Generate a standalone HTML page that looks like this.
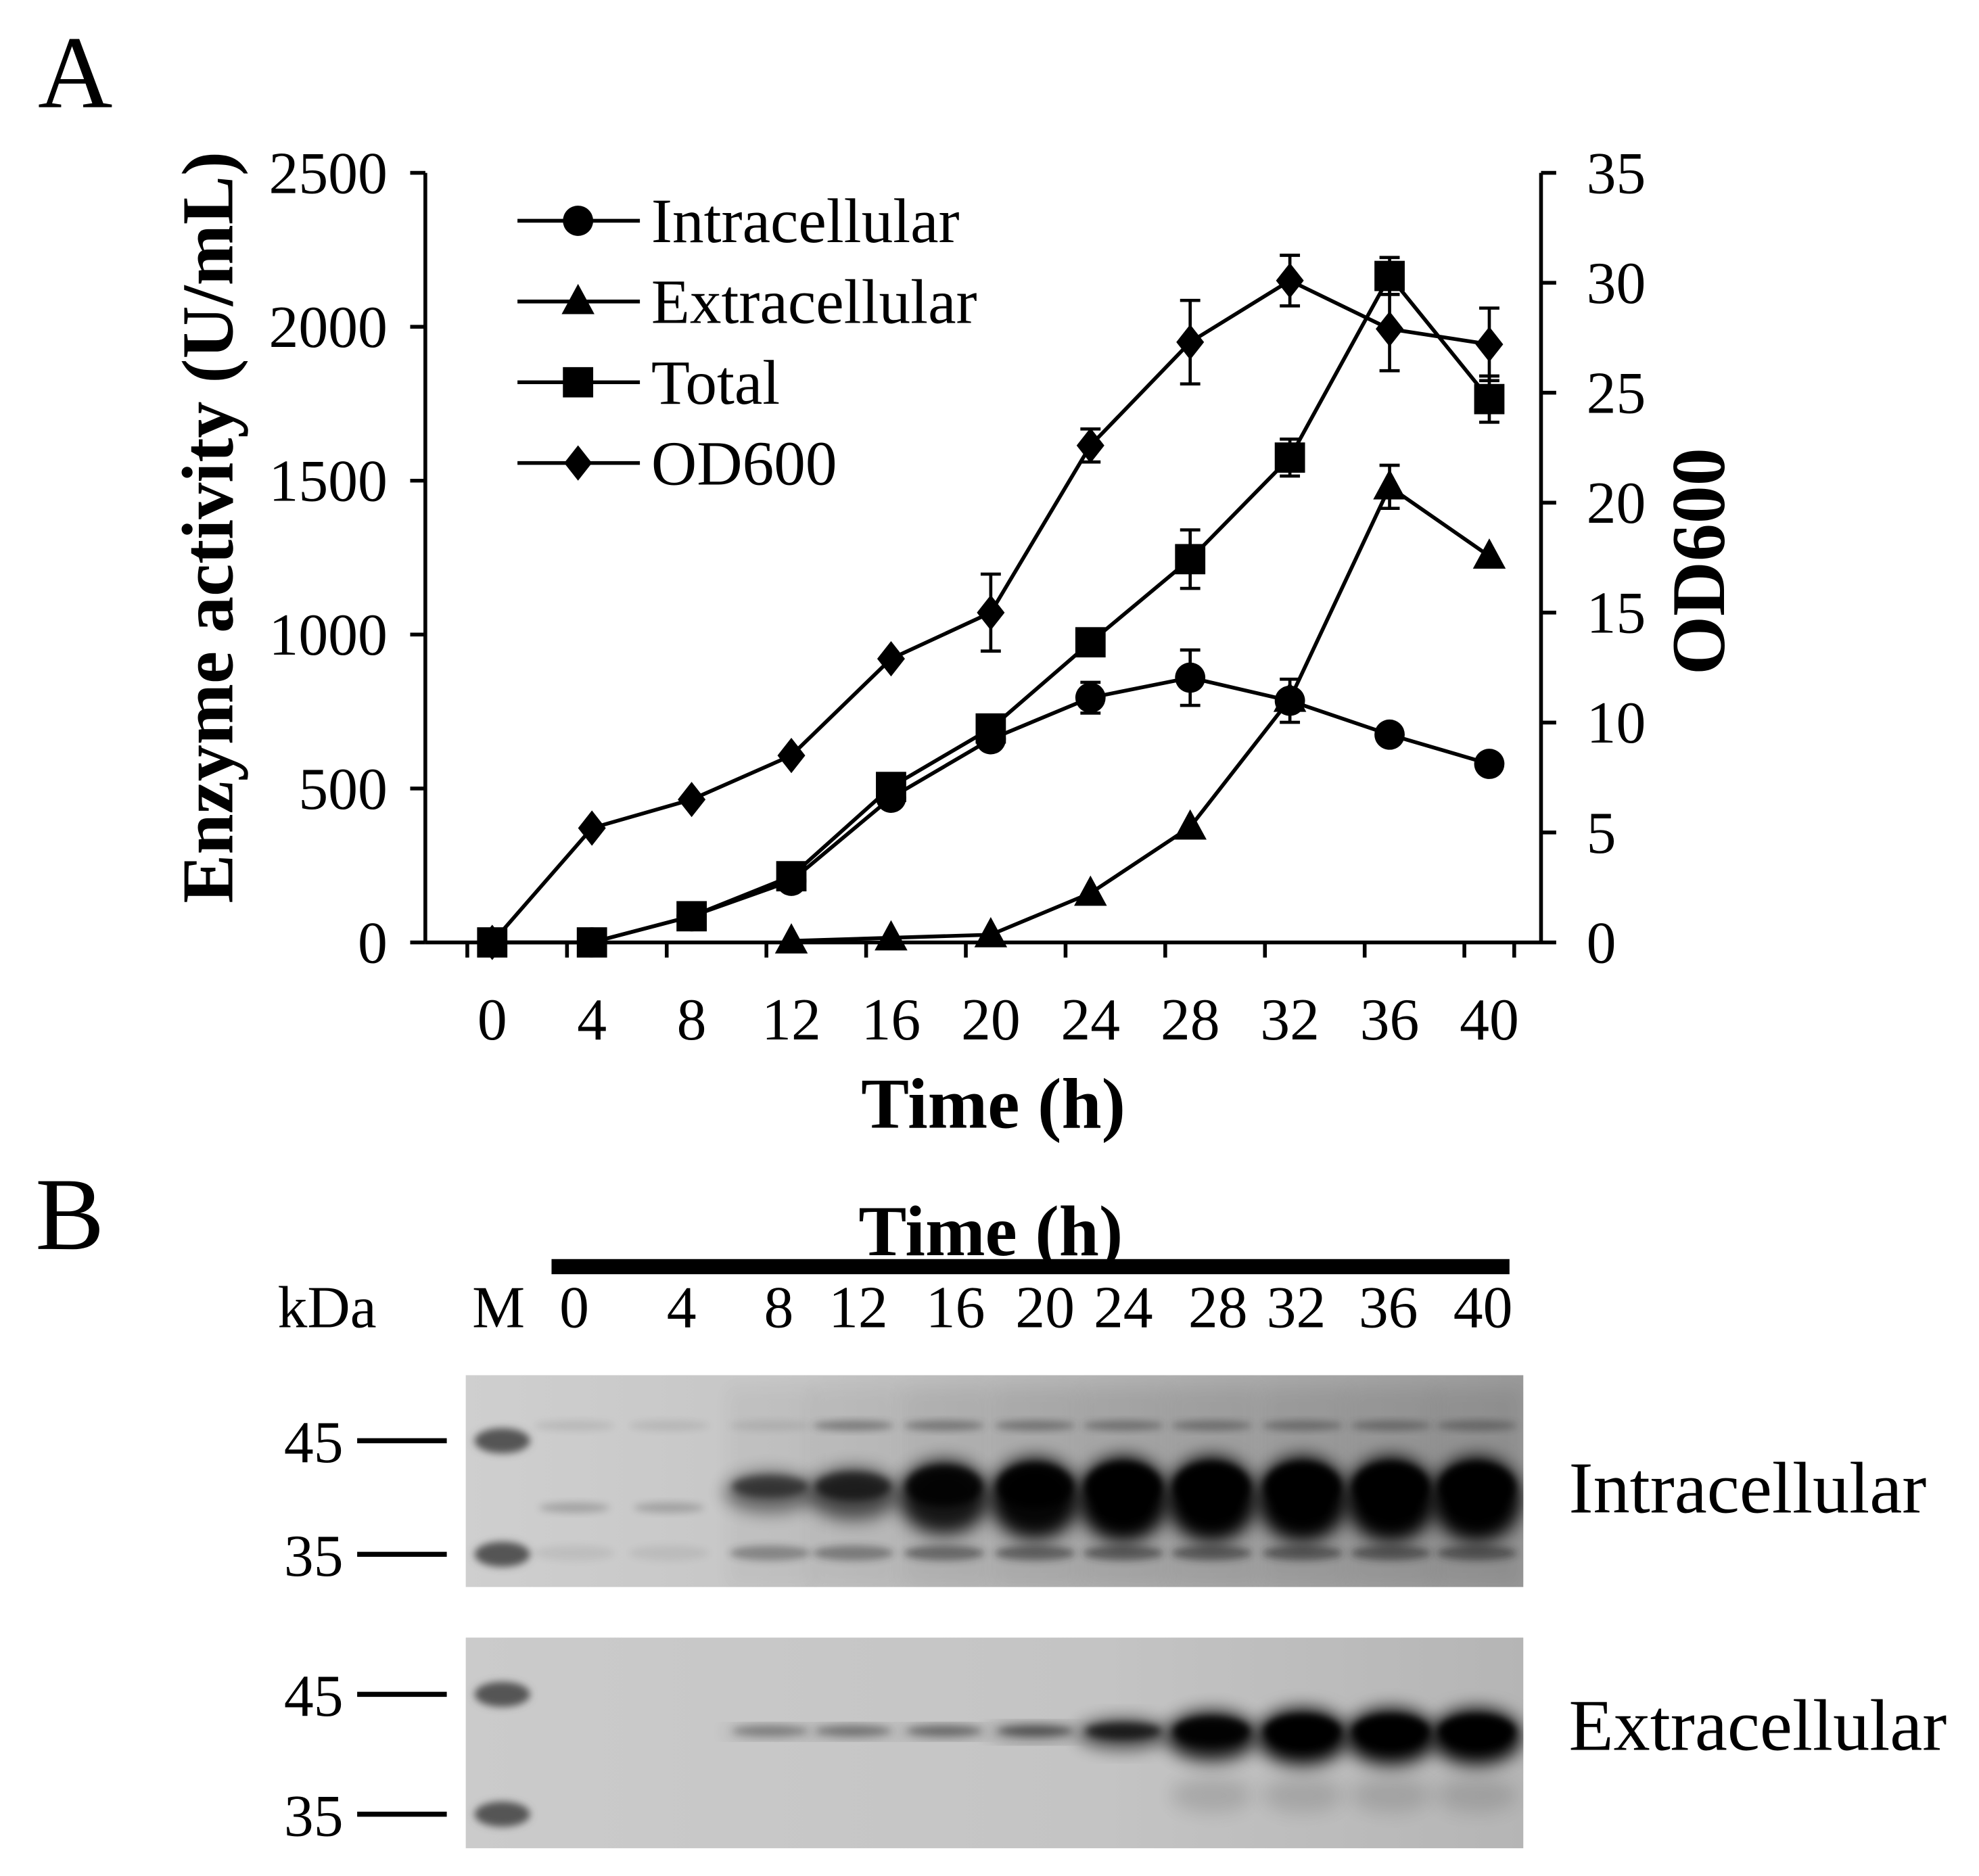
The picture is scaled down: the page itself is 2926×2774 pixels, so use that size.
<!DOCTYPE html>
<html><head><meta charset="utf-8"><style>
html,body{margin:0;padding:0;background:#fff}
svg{display:block}
text{font-family:"Liberation Serif",serif;fill:#000}
</style></head><body>
<svg id="fig" width="2926" height="2774" viewBox="0 0 1568 1487" preserveAspectRatio="none">
<defs>
<filter id="blur" x="-50%" y="-50%" width="200%" height="200%"><feGaussianBlur stdDeviation="7"/></filter>
<filter id="blur2" x="-50%" y="-50%" width="200%" height="200%"><feGaussianBlur stdDeviation="3"/></filter>
<linearGradient id="g1bg" x1="0" x2="1" y1="0" y2="0"><stop offset="0" stop-color="#cfcfcf"/><stop offset="0.3" stop-color="#c6c6c6"/><stop offset="1" stop-color="#9a9a9a"/></linearGradient>
<linearGradient id="g2bg" x1="0" x2="1" y1="0" y2="0"><stop offset="0" stop-color="#cbcbcb"/><stop offset="0.6" stop-color="#c4c4c4"/><stop offset="1" stop-color="#b5b5b5"/></linearGradient>
<clipPath id="c1"><rect x="369" y="1090" width="838" height="168"/></clipPath>
<clipPath id="c2"><rect x="369" y="1298" width="838" height="167"/></clipPath>
</defs>
<text x="30" y="85" font-size="82">A</text>
<g id="chart"></g>
<text x="28" y="990" font-size="82">B</text>
<g id="gelpanel"></g>
</svg>
<script>
const hours = [0,4,8,12,16,20,24,28,32,36,40];
const intracellular = [0,0,85,200,470,660,795,860,785,675,580];
const intraErr = [0,0,0,0,0,0,50,90,70,0,0];
const extracellular = [null,null,null,5,15,25,160,375,790,1480,1255];
const extraErr = [0,0,0,0,0,0,0,0,0,70,0];
const total = [0,0,85,215,505,695,975,1245,1575,2165,1765];
const totalErr = [0,0,0,0,0,0,0,95,60,60,75];
const od600 = [0,5.2,6.5,8.5,12.9,15.0,22.6,27.3,30.1,27.9,27.2];
const odErr = [0,0,0,0,0,1.75,0.75,1.9,1.15,1.9,1.65];
const leftTicks = [0,500,1000,1500,2000,2500];
const rightTicks = [0,5,10,15,20,25,30,35];
const laneLabels = ["0","4","8","12","16","20","24","28","32","36","40"];
const intraBand = [0,0,0.4,0.55,0.85,0.95,1,1,1,1,1];
const extraBand = [0,0,0.15,0.2,0.25,0.35,0.6,0.9,1,1,1];

const NS="http://www.w3.org/2000/svg";
function mk(tag,attrs,parent){const e=document.createElementNS(NS,tag);for(const k in attrs)e.setAttribute(k,attrs[k]);parent.appendChild(e);return e;}
const X0=337,X1=1221,Y0=747,Y1=137;
const xs=h=>390+(h/40)*790;
const yl=v=>Y0-(v/2500)*(Y0-Y1);
const yr=v=>Y0-(v/35)*(Y0-Y1);
const g=document.getElementById('chart');

let e;
e=mk('line',{x1:X0,y1:Y1,x2:X0,y2:Y0,stroke:'#000','stroke-width':3},g);


e=mk('line',{x1:X1,y1:Y1,x2:X1,y2:Y0,stroke:'#000','stroke-width':3},g);


e=mk('line',{x1:X0,y1:Y0,x2:X1,y2:Y0,stroke:'#000','stroke-width':3},g);


leftTicks.forEach(v=>{
  mk('line',{x1:X0-12,y1:yl(v),x2:X0,y2:yl(v),stroke:'#000','stroke-width':3},g);
  const t=mk('text',{x:X0-30,y:yl(v)+16,'font-size':47,'text-anchor':'end'},g);t.textContent=v;
  
  
});
rightTicks.forEach(v=>{
  mk('line',{x1:X1,y1:yr(v),x2:X1+12,y2:yr(v),stroke:'#000','stroke-width':3},g);
  const t=mk('text',{x:X1+36,y:yr(v)+16,'font-size':47},g);t.textContent=v;
  
  
});
hours.forEach((h,i)=>{
  mk('line',{x1:xs(h)-19.75,y1:Y0,x2:xs(h)-19.75,y2:Y0+12,stroke:'#000','stroke-width':3},g);
  const t=mk('text',{x:xs(h),y:824,'font-size':47,'text-anchor':'middle'},g);t.textContent=h;
  
  
});
mk('line',{x1:xs(40)+19.75,y1:Y0,x2:xs(40)+19.75,y2:Y0+12,stroke:'#000','stroke-width':3},g);
e=mk('text',{x:787,y:894,'font-size':57,'font-weight':'bold','text-anchor':'middle'},g);e.textContent='Time (h)';


e=mk('text',{x:0,y:0,'font-size':58,'font-weight':'bold','text-anchor':'middle',transform:'translate(184,418) rotate(-90)'},g);e.textContent='Enzyme activity (U/mL)';


e=mk('text',{x:0,y:0,'font-size':60,'font-weight':'bold','text-anchor':'middle',transform:'translate(1366,445) rotate(-90)'},g);e.textContent='OD600';



function marker(type,x,y,parent){
  if(type==='circle')return mk('circle',{cx:x,cy:y,r:12,fill:'#000'},parent);
  if(type==='square')return mk('rect',{x:x-12,y:y-12,width:24,height:24,fill:'#000'},parent);
  if(type==='triangle')return mk('polygon',{points:`${x},${y-14} ${x+13},${y+10} ${x-13},${y+10}`,fill:'#000'},parent);
  return mk('polygon',{points:`${x},${y-14} ${x+11},${y} ${x},${y+14} ${x-11},${y}`,fill:'#000'},parent);
}
function series(name,vals,errs,ys,type){
  const sg=mk('g',{},g);
  
  
  const pts=[];
  vals.forEach((v,i)=>{if(v!==null)pts.push([xs(hours[i]),ys(v),i]);});
  mk('polyline',{points:pts.map(p=>p[0]+','+p[1]).join(' '),fill:'none',stroke:'#000','stroke-width':3},sg);
  pts.forEach(p=>{
    const err=errs[p[2]];
    if(err>0){
      const v=vals[p[2]];const a=ys(v+err),b=ys(v-err);
      mk('line',{x1:p[0],y1:a,x2:p[0],y2:b,stroke:'#000','stroke-width':2.5},sg);
      mk('line',{x1:p[0]-8,y1:a,x2:p[0]+8,y2:a,stroke:'#000','stroke-width':2.5},sg);
      mk('line',{x1:p[0]-8,y1:b,x2:p[0]+8,y2:b,stroke:'#000','stroke-width':2.5},sg);
    }
    const m=marker(type,p[0],p[1],sg);
    
    
  });
}
series('od600',od600,odErr,yr,'diamond');
series('extracellular',extracellular,extraErr,yl,'triangle');
series('intracellular',intracellular,intraErr,yl,'circle');
series('total',total,totalErr,yl,'square');

const legend=[['Intracellular','circle',175],['Extracellular','triangle',239],['Total','square',303],['OD600','diamond',367]];
legend.forEach(l=>{
  const lg=mk('g',{},g);
  
  
  mk('line',{x1:410,y1:l[2],x2:507,y2:l[2],stroke:'#000','stroke-width':3},lg);
  marker(l[1],458,l[2],lg);
  const t=mk('text',{x:516,y:l[2]+17,'font-size':50},lg);t.textContent=l[0];
});

// Panel B
const gp=document.getElementById('gelpanel');
e=mk('text',{x:785,y:995,'font-size':57,'font-weight':'bold','text-anchor':'middle'},gp);e.textContent='Time (h)';


e=mk('rect',{x:437,y:998,width:759,height:12,fill:'#000'},gp);


e=mk('text',{x:220,y:1052,'font-size':47},gp);e.textContent='kDa';


e=mk('text',{x:395,y:1052,'font-size':47,'text-anchor':'middle'},gp);e.textContent='M';


const laneX=[455,540,617,680,757,828,890,965,1027,1100,1175];
laneLabels.forEach((s,i)=>{
  const t=mk('text',{x:laneX[i],y:1052,'font-size':47,'text-anchor':'middle'},gp);t.textContent=s;
  
  
});
const bandX=[455,530,610,676,748,820,890,960,1032,1102,1170];
function gel(y0,h,bg,clip,bands,mainY,kind){
  const gg=mk('g',{'clip-path':'url(#'+clip+')'},gp);
  
  
  mk('rect',{x:369,y:y0,width:838,height:h,fill:'url(#'+bg+')'},gg);
  mk('ellipse',{cx:398,cy:y0+(kind==='intra'?52:45),rx:22,ry:10,fill:'#555',filter:'url(#blur2)'},gg);
  mk('ellipse',{cx:398,cy:y0+(kind==='intra'?142:140),rx:22,ry:10,fill:'#555',filter:'url(#blur2)'},gg);
  bands.forEach((b,i)=>{
    if(kind==='intra'){
      if(i>=2){mk('rect',{x:bandX[i]-34,y:y0+10,width:70,height:h-10,fill:'#000',opacity:0.08*b,filter:'url(#blur)'},gg);}
      mk('ellipse',{cx:bandX[i],cy:y0+40,rx:32,ry:4,fill:'#333',opacity:i>=3?0.45:0.12,filter:'url(#blur2)'},gg);
      mk('ellipse',{cx:bandX[i],cy:y0+141,rx:32,ry:6,fill:'#222',opacity:i>=2?0.25+0.3*b:0.08,filter:'url(#blur2)'},gg);
      if(i<2)mk('ellipse',{cx:bandX[i],cy:y0+105,rx:28,ry:4,fill:'#444',opacity:0.3,filter:'url(#blur2)'},gg);
    }else if(i>=7){
      mk('ellipse',{cx:bandX[i],cy:y0+125,rx:32,ry:14,fill:'#000',opacity:0.12,filter:'url(#blur)'},gg);
    }
    if(b>0){
      const ry=kind==='intra'?4+30*b:4+26*Math.max(0,b-0.3);
      mk('ellipse',{cx:bandX[i],cy:mainY+(kind==='intra'?ry*0.3:ry*0.2),rx:36,ry:ry,fill:'#000',opacity:Math.min(1,0.15+0.85*b),filter:'url(#blur)'},gg);
      const bm=mk('ellipse',{cx:bandX[i],cy:mainY,rx:30,ry:Math.max(4,ry*0.55),fill:'#000',opacity:Math.min(1,0.15+0.8*b),filter:'url(#blur2)'},gg);
      
      
    }
  });
}
gel(1090,168,'g1bg','c1',intraBand,1178,'intra');
gel(1298,167,'g2bg','c2',extraBand,1372,'extra');
const mk2=[[1142,'45'],[1232,'35'],[1343,'45'],[1438,'35']];
mk2.forEach(m=>{
  mk('line',{x1:283,y1:m[0],x2:354,y2:m[0],stroke:'#000','stroke-width':4},gp);
  const t=mk('text',{x:272,y:m[0]+17,'font-size':47,'text-anchor':'end'},gp);t.textContent=m[1];
  
  
});
e=mk('text',{x:1243,y:1199,'font-size':58},gp);e.textContent='Intracellular';


e=mk('text',{x:1243,y:1387,'font-size':58},gp);e.textContent='Extracellular';


</script>
</body></html>
